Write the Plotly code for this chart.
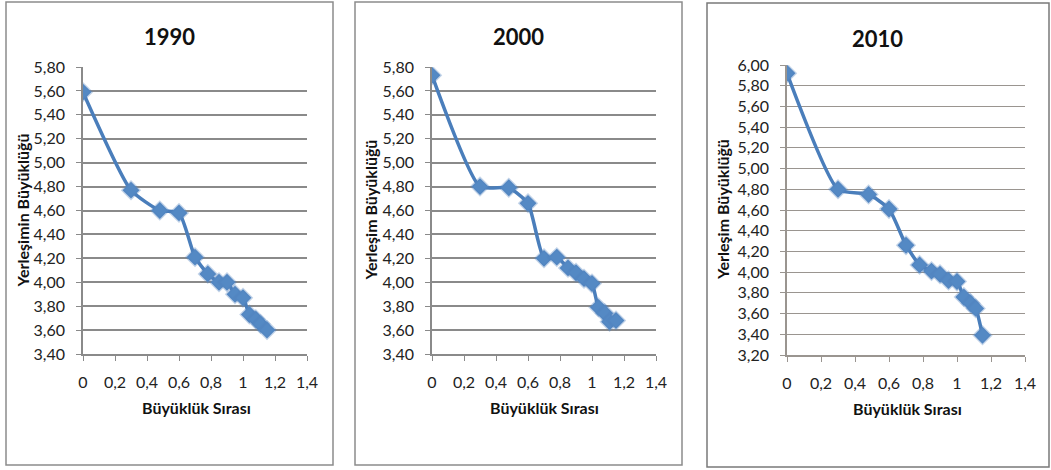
import plotly.graph_objects as go

# ---- data ----
rank_log = [0, 0.30, 0.48, 0.60, 0.70, 0.78, 0.85, 0.90, 0.95, 1.00, 1.04, 1.08, 1.11, 1.15]
size_1990 = [5.59, 4.77, 4.60, 4.58, 4.21, 4.07, 4.00, 4.00, 3.90, 3.87, 3.73, 3.69, 3.65, 3.60]
size_2000 = [5.73, 4.80, 4.79, 4.66, 4.20, 4.21, 4.12, 4.08, 4.03, 3.99, 3.79, 3.74, 3.67, 3.68]
size_2010 = [5.92, 4.80, 4.75, 4.61, 4.26, 4.07, 4.01, 3.98, 3.92, 3.91, 3.76, 3.70, 3.65, 3.39]

titles = ["1990", "2000", "2010"]
y_titles = ["Yerleşimin Büyüklüğü", "Yerleşim Büyüklüğü", "Yerleşim Büyüklüğü"]
x_title = "Büyüklük Sırası"
x_tickvals = [0, 0.2, 0.4, 0.6, 0.8, 1.0, 1.2, 1.4]
x_ticktext = ["0", "0,2", "0,4", "0,6", "0,8", "1", "1,2", "1,4"]
y_ranges = [(3.40, 5.80), (3.40, 5.80), (3.20, 6.00)]

W, H = 1051, 470
# plot areas in pixels: (x0, x1, ytop, ybottom)
areas = [(83, 307, 67, 354), (432, 656, 67, 354), (787, 1025, 65, 355)]
borders = [(6, 333, 2, 465), (355, 682, 2, 465), (707, 1049, 3, 467)]
title_pos = [(169, 36), (518, 36), (877, 38)]
ytitle_x = [22, 370, 722]
xtitle_pos = [(196, 407), (544, 407), (907, 408)]

series = [size_1990, size_2000, size_2010]
FONT = "Lato"
blue = "#4A7EBB"

fig = go.Figure()
for i in range(3):
    xa = "x" if i == 0 else f"x{i+1}"
    ya = "y" if i == 0 else f"y{i+1}"
    fig.add_trace(go.Scatter(
        x=rank_log, y=series[i], mode="lines+markers",
        line=dict(color=blue, width=3.5, shape="spline", smoothing=0.55),
        marker=dict(symbol="diamond", size=13, color="#5489C4",
                    line=dict(color="rgba(79,129,189,0.35)", width=2.5)),
        xaxis=xa, yaxis=ya, showlegend=False))
    x0, x1, yt, yb = areas[i]
    lo, hi = y_ranges[i]
    gridc = "#8a8a8a" if i < 2 else "#9a9590"
    xkey = "xaxis" if i == 0 else f"xaxis{i+1}"
    ykey = "yaxis" if i == 0 else f"yaxis{i+1}"
    fig.layout[xkey] = dict(
        domain=[x0 / W, x1 / W], range=[0, 1.4], anchor=ya, automargin=False,
        tickvals=x_tickvals, ticktext=x_ticktext, showgrid=False,
        zeroline=False, showline=True, linecolor=gridc, linewidth=1.5,
        ticks="outside", ticklen=5, tickcolor=gridc, ticklabelstandoff=8,
        tickfont=dict(family=FONT, size=16, color="#222222"))
    fig.layout[ykey] = dict(
        domain=[1 - yb / H, 1 - yt / H], range=[lo, hi], anchor=xa, automargin=False,
        dtick=0.2, tick0=lo, tickformat=".2f", showgrid=True,
        gridcolor=gridc, gridwidth=1.5 if i < 2 else 1, zeroline=False,
        showline=True, linecolor=gridc, linewidth=1.5,
        ticks="outside", ticklen=5, tickcolor=gridc, ticklabelstandoff=8,
        tickfont=dict(family=FONT, size=16, color="#222222"))
    bx0, bx1, by0, by1 = borders[i]
    fig.add_shape(type="rect", xref="paper", yref="paper",
                  x0=bx0 / W, x1=bx1 / W, y0=1 - by1 / H, y1=1 - by0 / H,
                  line=dict(color="#8c8c8c" if i < 2 else "#7a7a7a", width=1.5),
                  layer="below")
    tx, ty = title_pos[i]
    fig.add_annotation(x=tx / W, y=1 - ty / H, xref="paper", yref="paper",
                       xanchor="center", yanchor="middle",
                       text=f"<b>{titles[i]}</b>", showarrow=False,
                       font=dict(family=FONT, size=22, color="#111111"))
    fig.add_annotation(x=ytitle_x[i] / W, y=1 - ((yt + yb) / 2) / H,
                       xref="paper", yref="paper", textangle=-90,
                       xanchor="center", yanchor="middle",
                       text=f"<b>{y_titles[i]}</b>", showarrow=False,
                       font=dict(family=FONT, size=16, color="#111111"))
    xx, xy = xtitle_pos[i]
    fig.add_annotation(x=xx / W, y=1 - xy / H, xref="paper", yref="paper",
                       xanchor="center", yanchor="middle",
                       text=f"<b>{x_title}</b>", showarrow=False,
                       font=dict(family=FONT, size=16, color="#111111"))

fig.update_layout(width=W, height=H, margin=dict(l=0, r=0, t=0, b=0),
                  paper_bgcolor="white", plot_bgcolor="white",
                  separators=",.", hovermode=False)
fig.write_html("out.html", config={"displayModeBar": False},
               post_script="document.body.style.margin='0';document.body.style.overflow='hidden';")
